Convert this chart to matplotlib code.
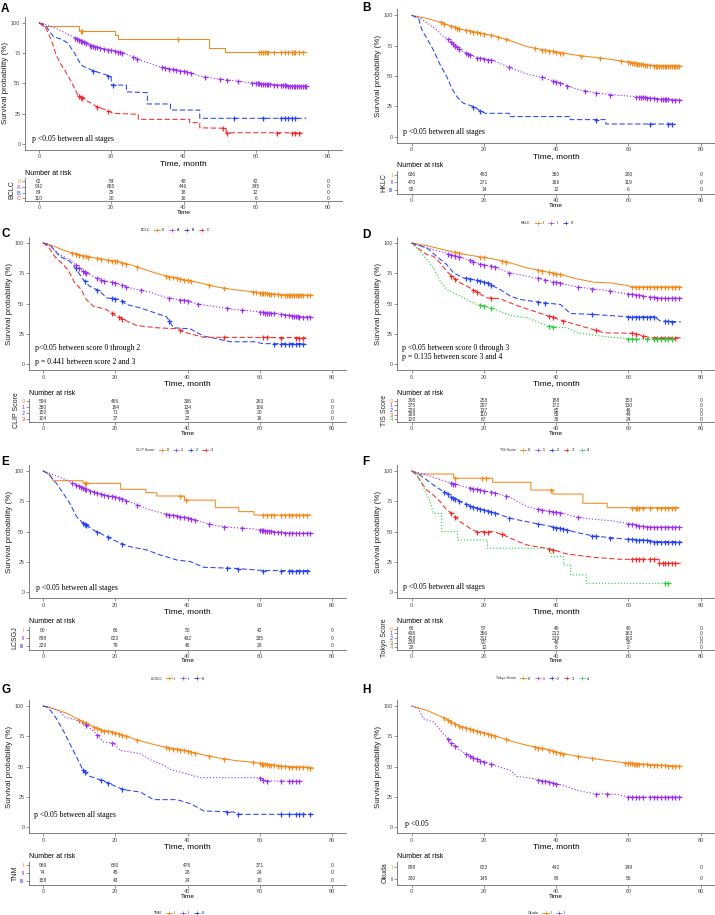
import matplotlib
matplotlib.use("Agg")
import matplotlib.pyplot as plt
import numpy as np
from matplotlib.lines import Line2D

plt.rcParams["font.family"] = ["Liberation Sans", "DejaVu Sans"]

W, H = 715, 915
T_PX = 289 / 80   # pixels per month
S_PX = 1.213      # pixels per percent
RISK_TIMES = [0, 20, 40, 60, 80]
PALETTE = ["#F28A1E", "#9A32F0", "#2743F5", "#F52A2A", "#2ECC40"]
STYLES = ["-", (0, (1.2, 1.8)), (0, (5, 2.5)), (0, (5, 2.5)), (0, (1.2, 1.8))]
AXIS = "#6b6b6b"

# ---------------- A: BCLC ----------------
bclc_labels = ["0", "A", "B", "C"]
bclc_time = [
    [0, 1, 1, 11, 11, 21, 21, 22, 22, 47, 47, 51.5, 51.5, 74],
    [0, 2, 5, 7.6, 10, 12.2, 14, 16.8, 19, 21.4, 24, 26, 28, 30.6, 33, 35.2, 37.5, 39.9, 42, 44.5,
     47, 49, 51.5, 53.7, 56, 58.3, 60.5, 62.9, 65, 67.5, 70, 74],
    [0, 2, 3, 4, 6.5, 8, 9.9, 11.7, 13, 15, 18.6, 20, 20, 24.2, 24.2, 30, 30, 36.4, 36.4, 44.5, 44.5, 74],
    [0, 2, 3.5, 4.8, 6, 7.1, 9, 10.8, 13.1, 15.9, 18.6, 20.5, 27.5, 27.5, 41.7, 41.7, 44.5, 44.5,
     51.8, 51.8, 72.6],
]
bclc_surv = [
    [100, 100, 97.3, 97.3, 93.4, 93.4, 90, 90, 86.8, 86.8, 79.4, 79.4, 76.2, 76.2],
    [100, 98.5, 95, 91, 87.5, 84.3, 81.5, 79.4, 77.8, 76.6, 74.5, 71.4, 69, 66.5, 64, 62.4, 61.2, 60.2,
     58.5, 56, 55, 53.8, 53, 52.2, 51.3, 50.5, 50, 49.5, 49, 48.4, 48, 47.8],
    [100, 97, 92.6, 88.5, 86, 83, 74.7, 65, 63, 60.4, 57, 55, 48.6, 48.6, 43, 42.3, 33, 33, 28, 28,
     21.2, 21.2],
    [100, 95, 85, 73, 66, 61, 51, 40, 36, 31, 28, 25.3, 24.5, 20.3, 20.3, 17.6, 17.6, 13.3, 13, 9.3, 9.3],
]
bclc_cens = [
    [11.5, 12, 38.5, 61, 61.5, 62, 62.5, 63, 63.5, 65, 67, 68, 69, 70, 70.5, 71, 72, 73],
    [10, 10.5, 11, 11.5, 12, 12.5, 13, 14, 14.5, 15, 15.5, 16, 17, 18, 19, 20, 21, 22, 22.5, 23, 26, 27,
     34, 35, 36, 37, 38, 39, 40, 41, 42, 46, 50, 52, 55, 59, 60, 60.5, 61, 61.5, 62, 62.5, 63, 63.5,
     64, 65, 66, 67, 67.5, 68, 68.5, 69, 69.5, 70, 70.5, 71, 71.5, 72, 72.5, 73, 73.5, 74],
    [15, 19, 20.5, 54, 62, 67, 68, 69, 70, 71],
    [11, 11.5, 12, 16, 19, 51, 52, 66, 70, 71, 72],
]
bclc_risk = [[62, 54, 48, 42, 0], [942, 655, 446, 345, 0], [84, 39, 18, 12, 0], [110, 20, 16, 6, 0]]

# ---------------- B: HKLC ----------------
hklc_labels = ["I", "II", "III"]
hklc_time = [
    [0, 4.2, 8.8, 13.4, 18, 22.7, 27.3, 31.9, 36.5, 41.2, 45.8, 50.4, 55, 59.7, 64.3, 67, 74.5],
    [0, 2.3, 4.2, 6.9, 8.8, 10.6, 13.4, 18, 22.7, 27.3, 31.9, 36.5, 41.2, 45.8, 50.4, 55, 59.7, 64.3,
     68.9, 74.5],
    [0, 1.9, 2.8, 4.2, 6, 7.9, 9.7, 11.1, 12.5, 14.3, 17.1, 19, 20.4, 27, 27, 43.9, 43.9, 53.7, 53.7, 73],
]
hklc_surv = [
    [100, 97.5, 93.4, 88.5, 86, 83, 79, 74.2, 71.4, 69.2, 67, 65.4, 63.7, 61.5, 59.3, 58.5, 58.2],
    [100, 97.5, 94, 88, 82.4, 79, 70.9, 65.1, 62.6, 56.6, 51.6, 48.4, 44, 39, 36.3, 34.6, 33.5, 32.4,
     31, 30.2],
    [100, 97.5, 88, 81, 71.4, 59, 49.5, 39.8, 33, 27.5, 24.7, 21.2, 19.2, 19.2, 16.5, 16.5, 14, 14,
     10.4, 10.4],
]
hklc_cens = [
    [8, 9, 11, 12, 12.5, 13, 15, 16, 17, 18, 19, 20, 22, 24, 26, 34, 36, 37, 38, 39, 40, 41, 42, 47, 52,
     58, 60, 60.5, 61, 61.5, 62, 62.5, 63, 63.5, 64, 64.5, 65, 66, 67, 67.5, 68, 68.5, 69, 69.5, 70,
     70.5, 71, 71.5, 72, 72.5, 73, 73.5, 74],
    [10, 11, 11.5, 12, 12.5, 13, 15, 15.5, 16, 18, 19, 20, 21, 22, 27, 36, 39, 40, 41, 43, 48, 51, 55,
     62, 63, 63.5, 64, 64.5, 65, 66, 67, 68, 69, 69.5, 70, 70.5, 71, 72, 73, 74],
    [17, 19, 51, 66, 71, 72],
]
hklc_risk = [[636, 483, 350, 280, 0], [470, 271, 166, 119, 0], [92, 14, 12, 6, 0]]

# ---------------- C: CLIP ----------------
clip_labels = ["0", "1", "2", "3"]
clip_time = [
    [0, 1.9, 6.5, 11.1, 15.7, 20.4, 25, 29.6, 34.2, 38.9, 43.5, 48.1, 52.7, 57.4, 62, 66.6, 74.5],
    [0, 1.9, 4.6, 7.4, 10.2, 12.9, 15.7, 20.4, 25, 29.6, 34.2, 38.9, 43.5, 48.1, 52.7, 57.4, 62, 66.6,
     71.2, 74.5],
    [0, 1.9, 4.6, 7.4, 9.3, 11.1, 12.9, 15.7, 17.6, 21.3, 23.1, 26.8, 29.6, 34.2, 36.1, 40.7, 44.4,
     48.1, 51.8, 58.3, 61, 72.6],
    [0, 1.4, 3.2, 5.1, 6.9, 8.8, 10.6, 12, 13.9, 17.6, 19.4, 22.2, 25.9, 31.5, 37, 38.9, 44.4, 72.6],
]
clip_surv = [
    [100, 98.6, 93.2, 89.6, 86.8, 85, 81.4, 76.7, 72.6, 69.9, 67.1, 63.8, 61.6, 60, 58.4, 57.3, 57],
    [100, 97.3, 90.4, 86.3, 78.6, 74, 69.9, 66.6, 62.2, 59.5, 54.8, 52.9, 49.3, 47.4, 45.2, 44.1, 42.5,
     41.1, 39.2, 39.2],
    [100, 98.6, 89, 85, 78, 69.9, 64.4, 60.3, 54.8, 53.4, 49.3, 46.6, 43.8, 39.2, 30.1, 29.3, 23.3,
     21.1, 18.6, 18.6, 17, 17],
    [100, 97.3, 89, 83.6, 78, 67.1, 61.6, 53.4, 47.9, 45.2, 41.1, 37, 32, 30.1, 29.3, 26.6, 22.3, 22],
]
clip_cens = [
    [8, 9, 10, 11, 12, 12.5, 15, 16, 18, 19, 20, 20.5, 22, 23, 26, 34, 35, 36, 37, 38, 39, 40, 41, 46,
     50, 58, 59, 60, 60.5, 61, 61.5, 62, 62.5, 63, 64, 65, 66, 67, 67.5, 68, 68.5, 69, 69.5, 70, 70.5,
     71, 71.5, 72, 73, 74],
    [9, 10, 11, 11.5, 12, 15, 16, 17, 19, 20, 22, 23, 27, 35, 38, 39, 40, 43, 51, 55, 60, 61, 61.5, 62,
     62.5, 63, 64, 66, 67, 68, 69, 69.5, 70, 70.5, 71, 72, 73, 74],
    [9, 11.5, 15, 19, 20, 22, 35, 64, 66, 67, 68, 69, 70, 71, 72],
    [19, 21, 22, 38, 50, 61, 62, 66, 70, 71, 72],
]
clip_risk = [[594, 466, 336, 263, 0], [350, 194, 134, 106, 0], [150, 71, 36, 20, 0], [104, 37, 22, 16, 0]]

# ---------------- D: TIS ----------------
tis_labels = ["0", "1", "2", "3", "4"]
tis_time = [
    [0, 4.2, 8.8, 13.4, 18, 22.7, 27.3, 31.9, 36.5, 41.2, 45.8, 50.4, 55, 59.7, 61, 74.5],
    [0, 4.2, 8.8, 13.4, 18, 22.7, 27.3, 31.9, 36.5, 41.2, 45.8, 50.4, 55, 59.7, 64.3, 68.9, 74.5],
    [0, 4.2, 6.9, 9.7, 11.6, 14.3, 18, 20.8, 24.5, 27.3, 30.1, 36.5, 41.2, 43.9, 50.4, 59.7, 67, 68.9, 74.5],
    [0, 2.3, 4.2, 6, 7.9, 9.7, 12.5, 15.3, 18, 20.8, 24.5, 29.1, 33.8, 38.4, 43, 48.6, 53.2, 61.5, 64.3,
     66.1, 74.5],
    [0, 1.9, 4.2, 6, 7.9, 9.7, 12.5, 15.3, 18, 22.7, 27.3, 31.9, 35.6, 37.5, 43, 45.8, 52.3, 59.7, 72.6],
]
tis_surv = [
    [100, 97.8, 94.5, 91.2, 89, 86.8, 83.6, 79.5, 76.7, 74, 70.4, 67.7, 67.1, 64.9, 63.8, 63.8],
    [100, 95.9, 92.3, 88.5, 83.6, 80.3, 75.3, 72.6, 69.9, 66.6, 63.8, 62.2, 60.3, 58.1, 56.2, 54.5, 54.5],
    [100, 95.9, 89, 82.2, 75.3, 71.2, 69.3, 67.1, 61.6, 56.2, 53.4, 50.7, 49.3, 41.9, 41.1, 39.2, 39.2,
     35.6, 35],
    [100, 94.5, 90.4, 89, 83.6, 76.7, 68.5, 64.4, 59.5, 54.8, 54, 48.5, 43.8, 39.2, 34.8, 30.1, 26, 25.5,
     23.3, 21.9, 21.9],
    [100, 94.5, 86.3, 79.5, 68.5, 61.6, 57.5, 53.4, 49.3, 45.8, 40.3, 38.4, 34.2, 31.5, 30.1, 26, 23.3,
     21.1, 21.1],
]
tis_cens = [
    [12, 13, 19, 20, 25, 26, 35, 36, 38, 39, 40, 41, 61, 62, 63, 64, 65, 66, 67, 68, 69, 70, 71, 72, 73, 74],
    [10, 11, 12, 13, 16, 17, 19, 20, 22, 23, 27, 35, 37, 39, 40, 41, 46, 50, 55, 60, 61, 62, 63, 64, 66,
     67, 68, 69, 70, 71, 72, 73, 74],
    [15, 16, 18, 19, 20, 21, 22, 35, 37, 50, 60, 61, 62, 63, 64, 65, 66, 67, 70, 71, 72],
    [11, 12, 17, 18, 22, 38, 39, 42, 51, 61, 62, 64, 67, 68, 69, 70, 71, 72, 73],
    [19, 20, 22, 38, 39, 60, 61, 62, 65, 67, 68, 69, 70, 71, 72],
]
tis_risk = [[308, 258, 188, 153, 0], [375, 297, 172, 130, 0], [226, 137, 82, 46, 0],
            [169, 110, 55, 44, 0], [120, 67, 36, 24, 0]]

# ---------------- E: LCSGJ ----------------
lcsgj_labels = ["I", "II", "III"]
lcsgj_time = [
    [0, 1.9, 2.8, 11.1, 11.1, 21.5, 21.5, 28.5, 28.5, 31.5, 31.5, 39.2, 39.2, 47.7, 47.7, 54.2, 54.2,
     58.4, 58.4, 74.1],
    [0, 1.9, 6.5, 11.1, 15.8, 20.4, 25, 29.7, 34.3, 38.9, 43.6, 48.2, 52.8, 57.5, 62.1, 66.7, 74.1],
    [0, 1.4, 3.7, 5.6, 7.4, 9.3, 11.1, 13.9, 16.7, 19.5, 23.2, 28.7, 32.4, 37.1, 40.8, 44.5, 52.8, 61.2, 74.1],
]
lcsgj_surv = [
    [100, 96.7, 92, 92, 89.8, 89.8, 84.9, 84.9, 82.1, 82.1, 79.4, 79.4, 76, 76, 69.8, 69.8, 66.5, 66.5,
     63.7, 63.7],
    [100, 98, 92.6, 85.7, 81, 78.3, 73.4, 67.9, 64.3, 61.8, 58.2, 54.7, 53.3, 52.5, 50.5, 49.2, 48.6],
    [100, 98, 89.8, 81.6, 73.4, 62.4, 56.9, 51.4, 47.3, 43.1, 38.2, 34.9, 30.8, 26.6, 25.3, 20.6, 19.8,
     17.9, 17.9],
]
lcsgj_cens = [
    [11.5, 12, 38, 39.5, 61, 62, 63, 64, 66, 67, 68, 69, 70, 71, 72, 73],
    [8, 9, 10, 10.5, 11, 11.5, 12, 13, 14, 15, 16, 17, 18, 19, 20, 21, 22, 23, 26, 34, 35, 36, 37, 38,
     39, 40, 41, 42, 46, 50, 55, 60, 60.5, 61, 61.5, 62, 62.5, 63, 64, 65, 66, 67, 68, 69, 70, 71, 72, 73, 74],
    [11, 11.5, 12, 15, 18, 22, 51, 54, 61, 66, 68, 69, 70, 71, 72, 73],
]
lcsgj_risk = [[80, 66, 50, 42, 0], [898, 623, 432, 335, 0], [220, 79, 46, 28, 0]]

# ---------------- F: Tokyo ----------------
tokyo_labels = ["0", "1", "2", "3", "4"]
tokyo_time = [
    [0, 2.3, 11.6, 11.6, 22.4, 22.4, 33, 33, 39.1, 39.1, 47.4, 47.4, 54.1, 54.1, 74],
    [0, 4.2, 8.8, 13.4, 18, 22.7, 27.3, 31.9, 36.5, 41.2, 45.8, 50.4, 55, 59.7, 64.3, 74.5],
    [0, 2.3, 6, 8.8, 11.6, 14.3, 18, 22.7, 27.3, 31.9, 36.5, 41.2, 45.8, 50.4, 55, 59.7, 64.3, 67, 74.5],
    [0, 1.4, 2.8, 4.2, 6, 7.9, 9.7, 11.6, 13.4, 16.2, 18, 22.7, 25.4, 29.1, 31.9, 35.6, 39.3, 43, 50.4,
     57.8, 68.5, 68.5, 74.5],
    [0, 1.4, 3.2, 5.1, 6, 8.3, 8.3, 12.7, 12.7, 21, 21, 38.6, 38.6, 42.1, 42.1, 44, 44, 48.4, 48.4, 71.2],
]
tokyo_surv = [
    [100, 97.5, 97.5, 94, 94, 90.7, 90.7, 84.3, 84.3, 81, 81, 73.4, 73.4, 69.8, 69.8],
    [100, 96.7, 92, 87.9, 84.9, 82.1, 78.3, 70.6, 67.3, 65.7, 61.8, 60.2, 59.1, 56.9, 54.1, 53.6],
    [100, 96.7, 88.5, 83, 77.5, 73.4, 69.2, 65.7, 61, 58.2, 55.5, 52.7, 49.2, 46.4, 45.1, 43.7, 43.1,
     41.8, 41.8],
    [100, 96.7, 89.8, 84.3, 80.2, 74.7, 67.9, 63.7, 58.2, 52.7, 50, 50, 47.3, 42.3, 39, 37.1, 34.9, 31.6,
     28.8, 27.2, 27.2, 23.9, 23.9],
    [100, 98, 87, 74.7, 65.1, 65.1, 50, 50, 43.1, 43.1, 36.3, 36.3, 29.4, 29.4, 22.5, 22.5, 14.3, 14.3,
     7.4, 7.4],
]
tokyo_cens = [
    [12, 19.5, 20.5, 38.5, 61, 62, 62.5, 63, 64, 66, 68, 69, 70, 71, 72, 73],
    [11, 11.5, 12, 16, 17, 18, 19, 20, 22, 23, 26, 35, 36, 38, 39, 40, 41, 46, 60, 61, 62, 63, 64, 65,
     66, 67, 68, 69, 70, 71, 72, 73, 74],
    [9, 10, 11, 11.5, 12, 13, 15, 16, 17, 18, 19, 20, 21, 22, 23, 27, 35, 39, 40, 41, 42, 43, 50, 51, 55,
     60, 61, 62, 63, 64, 65, 66, 67, 68, 69, 70, 71, 72, 73, 74],
    [11, 12, 18, 20, 21, 25, 38, 39, 61, 62, 63, 64, 66, 67, 68.5, 69.5, 70, 71, 72, 73],
    [70, 71],
]
tokyo_risk = [[66, 57, 46, 40, 0], [438, 356, 212, 163, 0], [428, 311, 219, 160, 0],
              [238, 90, 46, 30, 0], [28, 12, 6, 2, 0]]

# ---------------- G: TNM ----------------
tnm_labels = ["I", "II", "III"]
tnm_time = [
    [0, 1.9, 6.5, 11.1, 15.8, 20.4, 25, 29.7, 34.3, 38.9, 43.6, 48.2, 52.8, 57.5, 62.1, 66.7, 74.6],
    [0, 1.9, 4.6, 6, 9.3, 12, 14.8, 16.7, 19.5, 21.3, 26.9, 30.1, 33.4, 35.2, 43.6, 60.2, 61.2, 71.8],
    [0, 1.4, 3.7, 5.6, 7.4, 9.3, 11.1, 13, 16.7, 19.5, 22.2, 26.9, 30.6, 37.1, 40.8, 44.5, 52.8, 54.2, 74.6],
]
tnm_surv = [
    [100, 98.6, 94.2, 86.8, 80.5, 77.7, 73, 69, 65.7, 63.5, 60.2, 57.4, 55.2, 53.8, 51.9, 50.3, 49.2],
    [100, 99, 95.9, 90.9, 88.2, 84.1, 77.2, 70.3, 69.5, 63.5, 60.7, 55.2, 51.1, 47.8, 40.9, 40.9, 38.2, 38.2],
    [100, 99, 89.6, 79.9, 69, 58, 47, 42, 38.2, 34.6, 31, 29.1, 22.8, 22.8, 19.5, 13.5, 12.6, 10.7, 10.7],
]
tnm_cens = [
    [10, 11, 12, 14, 15, 16, 17, 18, 19, 20, 21, 22, 23, 26, 34, 35, 36, 37, 38, 39, 40, 41, 42, 46, 50,
     58, 60, 60.5, 61, 61.5, 62, 62.5, 63, 64, 65, 66, 67, 68, 69, 70, 71, 72, 73, 74],
    [12, 15, 19, 60, 61, 62, 66, 68, 69, 70, 71],
    [11, 11.5, 16, 18, 22, 51, 54, 66, 68, 70, 71, 72, 74],
]
tnm_risk = [[966, 680, 476, 371, 0], [74, 45, 28, 24, 0], [158, 43, 24, 10, 0]]

# ---------------- H: Okuda ----------------
okuda_labels = ["I", "II"]
okuda_time = [
    [0, 4.2, 8.8, 13.4, 18, 22.7, 27.3, 31.9, 36.5, 41.2, 45.8, 50.4, 55, 59.7, 64.3, 74.5],
    [0, 1.9, 3.2, 6, 8.8, 11.6, 13.4, 16.2, 19.9, 22.7, 27.3, 29.1, 33.8, 37.5, 42.1, 45.8, 50.4, 56.9,
     59.7, 74.5],
]
okuda_surv = [
    [100, 96.4, 90.4, 83.2, 79.4, 75.8, 71.2, 67.6, 64.8, 61.3, 58.5, 56.6, 54.7, 53, 51.9, 50.3],
    [100, 97.8, 89.6, 86.8, 77.2, 67.6, 63.5, 58, 53.8, 51.1, 47, 42, 40.1, 37.4, 34.6, 30.5, 27.7, 27.2,
     25, 25],
]
okuda_cens = [
    [9, 10, 11, 12, 13, 14, 15, 16, 17, 18, 19, 20, 21, 22, 23, 26, 34, 35, 36, 38, 39, 40, 41, 42, 46,
     50, 59, 60, 60.5, 61, 61.5, 62, 62.5, 63, 64, 65, 66, 67, 68, 69, 70, 71, 72, 73, 74],
    [10, 11, 12, 15, 16, 17, 18, 19, 20, 22, 35, 36, 37, 38, 39, 40, 51, 54, 60, 61, 62, 63, 64, 66, 67,
     68, 69, 70, 71, 72, 73, 74],
]
okuda_risk = [[898, 623, 442, 349, 0], [300, 145, 86, 56, 0]]


def rect(left, top, width, height):
    return [left / W, 1 - (top + height) / H, width / W, height / H]


def fx(x):
    return x / W


def fy(y):
    return 1 - y / H


def style_axes(ax):
    for side in ("top", "right"):
        ax.spines[side].set_visible(False)
    for side in ("left", "bottom"):
        ax.spines[side].set_color(AXIS)
        ax.spines[side].set_linewidth(0.6)
    ax.tick_params(length=2, width=0.5, color=AXIS, labelsize=4, labelcolor="#4d4d4d", pad=1)
    ax.set_facecolor("none")


legend_titles = []


def draw_panel(fig, letter, letter_xy, x0, y100, title, labels, times, survs, cens, risk, ptexts):
    n = len(labels)
    colors = PALETTE[:n]
    styles = STYLES[:n]
    left = x0 - 4 * T_PX
    width = 88 * T_PX

    ax = fig.add_axes(rect(left, y100 - 5 * S_PX, width, 110 * S_PX))
    for t, s, c, col, ls in zip(times, survs, cens, colors, styles):
        ax.plot(t, s, color=col, ls=ls, lw=0.75)
        ax.plot(c, np.interp(c, t, s), ls="none", marker="+", ms=3.6, mew=0.9, color=col)
    ax.set_xlim(-4, 84)
    ax.set_ylim(-5, 105)
    ax.set_xticks(RISK_TIMES)
    ax.set_yticks([0, 25, 50, 75, 100])
    style_axes(ax)
    ax.set_ylabel("Survival probability (%)", fontsize=5.8, labelpad=1.5, color="#222222")
    for tx, sy, txt in ptexts:
        ax.text(tx, sy, txt, family=["Liberation Serif"], fontsize=5.6, va="center", ha="left")

    fig.text(fx(left + width / 2), fy(y100 + 141), "Time, month", ha="center", va="center", fontsize=6)
    fig.text(fx(left), fy(y100 + 150.5), "Number at risk", ha="left", va="center", fontsize=5)

    tab = fig.add_axes(rect(left, y100 + 155.5, width, 23))
    rows = np.arange(n, 0, -1)
    for vals, yv in zip(risk, rows):
        for t, v in zip(RISK_TIMES, vals):
            tab.text(t, yv, str(v), ha="center", va="center", fontsize=3.5, color="#333333")
    tab.set_xlim(-4, 84)
    tab.set_ylim(0.5, n + 0.5)
    tab.set_xticks(RISK_TIMES)
    tab.set_yticks(rows)
    tab.set_yticklabels(labels)
    style_axes(tab)
    for lab, col in zip(tab.get_yticklabels(), colors):
        lab.set_color(col)
    tab.set_ylabel(title, fontsize=5, labelpad=1, color="#222222")
    fig.text(fx(left + width / 2), fy(y100 + 190), "Time", ha="center", va="center", fontsize=4.6)

    handles = [Line2D([], [], color=col, ls=ls, lw=0.6, marker="+", ms=2.5, mew=0.5)
               for col, ls in zip(colors, styles)]
    leg = fig.legend(handles, labels, loc="center", ncol=n, frameon=False, fontsize=2.6,
                     bbox_to_anchor=(fx(left + width / 2 - 2), fy(y100 + 207.5)),
                     handlelength=1.8, handletextpad=0.4, columnspacing=1.3,
                     borderpad=0, borderaxespad=0)
    legend_titles.append((leg, title))

    fig.text(fx(letter_xy[0]), fy(letter_xy[1]), letter, ha="left", va="top",
             fontsize=8.5, fontweight="bold")


fig = plt.figure(figsize=(W / 100, H / 100), dpi=100)

draw_panel(fig, "A", (1, 3), 39, 22.7, "BCLC", bclc_labels, bclc_time, bclc_surv, bclc_cens, bclc_risk,
           [(-2, 4, "p <0.05 between all stages")])
draw_panel(fig, "B", (362, 2), 411.7, 15.3, "HKLC", hklc_labels, hklc_time, hklc_surv, hklc_cens,
           hklc_risk, [(-2.3, 4, "p <0.05 between all stages")])
draw_panel(fig, "C", (1, 228), 43, 243, "CLIP Score", clip_labels, clip_time, clip_surv, clip_cens,
           clip_risk, [(-2.3, 13.7, "p<0.05 between score 0 through 2"),
                       (-2.3, 2.2, "p = 0.441 between score 2 and 3")])
draw_panel(fig, "D", (362, 229), 411.7, 243, "TIS Score", tis_labels, tis_time, tis_surv, tis_cens,
           tis_risk, [(-2.8, 13.7, "p <0.05 between score 0 through 3"),
                      (-2.8, 6, "p = 0.135 between score 3 and 4")])
draw_panel(fig, "E", (1, 456), 43, 471, "LCSGJ", lcsgj_labels, lcsgj_time, lcsgj_surv, lcsgj_cens,
           lcsgj_risk, [(-2, 3.8, "p <0.05 between all stages")])
draw_panel(fig, "F", (362, 456), 411.7, 471, "Tokyo Score", tokyo_labels, tokyo_time, tokyo_surv,
           tokyo_cens, tokyo_risk, [(-2.3, 4.4, "p <0.05 between all stages")])
draw_panel(fig, "G", (1, 684), 43, 706, "TNM", tnm_labels, tnm_time, tnm_surv, tnm_cens, tnm_risk,
           [(-2.5, 9.9, "p <0.05 between all stages")])
draw_panel(fig, "H", (362, 684), 411.7, 706, "Okuda", okuda_labels, okuda_time, okuda_surv, okuda_cens,
           okuda_risk, [(-1.8, 3, "p <0.05")])

fig.canvas.draw()
renderer = fig.canvas.get_renderer()
for leg, title in legend_titles:
    bb = leg.get_window_extent(renderer)
    fig.text((bb.x0 - 4) / W, (bb.y0 + bb.y1) / 2 / H, title, ha="right", va="center",
             fontsize=2.6, color="#222222")

fig.savefig("out.png", dpi=100)
